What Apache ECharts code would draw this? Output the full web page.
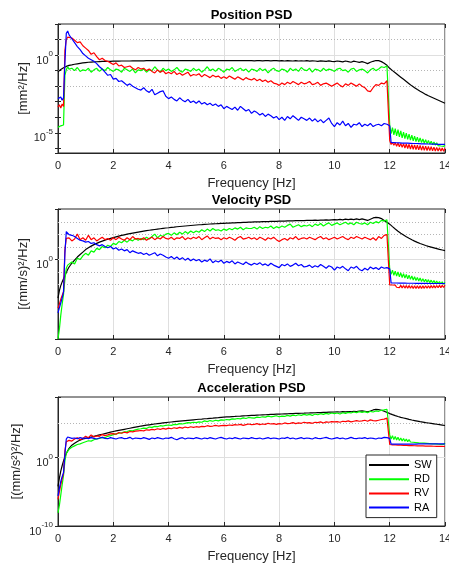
<!DOCTYPE html>
<html><head><meta charset="utf-8">
<script src="https://cdn.jsdelivr.net/npm/echarts@6/dist/echarts.min.js"></script>
<style>html,body{margin:0;padding:0;background:#fff}#c{width:449px;height:567px}</style>
</head><body><div id="c"></div>
<script>
// Frequency grid [Hz]
const freq = [
 0,0.05,0.1,0.15,0.2,0.25,0.3,0.35,0.4,
 0.5,0.6,0.7,0.8,0.9,
 1,1.1,1.2,1.3,1.4,1.5,1.6,1.7,1.8,1.9,
 2,2.1,2.2,2.3,2.4,2.5,2.6,2.7,2.8,2.9,
 3,3.1,3.2,3.3,3.4,3.5,3.6,3.7,3.8,3.9,
 4,4.1,4.2,4.3,4.4,4.5,4.6,4.7,4.8,4.9,
 5,5.1,5.2,5.3,5.4,5.5,5.6,5.7,5.8,5.9,
 6,6.1,6.2,6.3,6.4,6.5,6.6,6.7,6.8,6.9,
 7,7.1,7.2,7.3,7.4,7.5,7.6,7.7,7.8,7.9,
 8,8.1,8.2,8.3,8.4,8.5,8.6,8.7,8.8,8.9,
 9,9.1,9.2,9.3,9.4,9.5,9.6,9.7,9.8,9.9,
 10,10.1,10.2,10.3,10.4,10.5,10.6,10.7,10.8,10.9,
 11,11.1,11.2,11.3,11.4,11.5,11.6,11.7,11.8,11.9,
 11.95,12,12.05,12.1,12.15,12.2,12.25,12.3,12.35,12.4,12.45,12.5,12.55,12.6,12.65,12.7,12.75,12.8,12.85,12.9,12.95,
 13,13.05,13.1,13.15,13.2,13.25,13.3,13.35,13.4,13.45,13.5,13.55,13.6,13.65,13.7,13.75,13.8,13.85,13.9,13.95,14
];
const seriesNames = ['SW','RD','RV','RA'];
const panelTitles = ['Position PSD','Velocity PSD','Acceleration PSD'];
const yAxisNames = ['[mm\u00B2/Hz]','[(mm/s)\u00B2/Hz]','[(mm/s\u00B2)\u00B2/Hz]'];
const xAxisName = 'Frequency [Hz]';
// y-axis limits as log10 exponents
const yLimits = [[-6.3,2],[-6.4,4.07],[-10,8.84]];
const yLabelExp = [[0,-5],[0,-5],[0,-10]];
const yMinorExp = [[1,-1,-2,-3,-4,-6],[3,2,1,-1,-2,-3,-4,-6],[5,-5]];

// PSD values stored as log10 exponents (value = 10^x)
const posSW = [
 -1.07,-1.0,-0.93,-0.87,-0.82,-0.77,-0.73,-0.69,-0.66,
 -0.63,-0.59,-0.56,-0.53,-0.5,
 -0.48,-0.46,-0.45,-0.44,-0.43,-0.42,-0.41,-0.41,-0.4,-0.4,
 -0.39,-0.39,-0.39,-0.38,-0.38,-0.38,-0.38,-0.37,-0.37,-0.37,
 -0.37,-0.37,-0.36,-0.36,-0.36,-0.36,-0.36,-0.36,-0.36,-0.36,
 -0.36,-0.36,-0.36,-0.36,-0.36,-0.36,-0.36,-0.36,-0.36,-0.36,
 -0.36,-0.36,-0.36,-0.36,-0.36,-0.36,-0.36,-0.36,-0.36,-0.36,
 -0.36,-0.36,-0.36,-0.36,-0.36,-0.36,-0.36,-0.36,-0.36,-0.36,
 -0.36,-0.37,-0.36,-0.36,-0.37,-0.36,-0.36,-0.37,-0.36,-0.36,
 -0.37,-0.36,-0.38,-0.36,-0.37,-0.38,-0.36,-0.38,-0.37,-0.38,
 -0.36,-0.39,-0.37,-0.38,-0.4,-0.37,-0.39,-0.41,-0.37,-0.4,
 -0.42,-0.38,-0.41,-0.44,-0.38,-0.42,-0.46,-0.39,-0.43,-0.47,
 -0.42,-0.48,-0.55,-0.46,-0.4,-0.35,-0.36,-0.42,-0.52,-0.66,
 -0.75,-0.85,-0.93,-1.0,-1.07,-1.14,-1.21,-1.28,-1.35,-1.42,-1.49,-1.56,-1.63,-1.7,-1.77,-1.84,-1.91,-1.98,-2.04,-2.1,-2.16,
 -2.22,-2.28,-2.33,-2.38,-2.43,-2.48,-2.53,-2.58,-2.62,-2.66,-2.7,-2.74,-2.78,-2.82,-2.86,-2.9,-2.94,-2.98,-3.02,-3.06,-3.1
];
const posRD = [
 -4.65,-4.6,-4.55,-4.55,-4.5,-1.3,-0.95,-0.75,-0.9,
 -0.85,-1.0,-0.8,-1.05,-0.95,
 -1.0,-0.85,-1.1,-0.95,-0.85,-1.05,-0.9,-1.0,-0.8,-0.95,
 -1.05,-0.9,-0.95,-1.1,-0.85,-0.95,-1.05,-0.9,-1.15,-0.95,
 -1.0,-0.9,-1.1,-0.95,-1.0,-0.75,-0.95,-1.1,-0.85,-1.0,
 -0.9,-1.05,-0.95,-0.8,-1.0,-1.1,-0.9,-0.95,-1.05,-0.85,
 -1.0,-0.9,-1.1,-0.95,-0.75,-1.0,-0.9,-1.05,-0.85,-0.95,
 -1.1,-0.9,-0.95,-0.8,-1.05,-0.95,-0.85,-1.0,-0.9,-1.1,
 -0.9,-0.95,-1.05,-0.85,-1.0,-0.9,-1.15,-0.95,-0.85,-1.0,
 -1.05,-0.9,-0.95,-1.1,-0.85,-1.0,-0.9,-1.05,-0.8,-0.95,
 -1.0,-0.85,-1.1,-0.9,-0.95,-1.05,-0.85,-1.0,-0.9,-0.95,
 -1.05,-0.9,-0.85,-1.0,-0.95,-1.1,-0.9,-0.85,-1.05,-0.95,
 -0.9,-1.0,-1.15,-0.95,-0.85,-1.0,-0.9,-0.75,-0.8,-0.7,
 -0.75,-4.5,-5.05,-4.66,-5.13,-4.73,-5.2,-4.8,-5.26,-4.87,-5.32,-4.95,-5.37,-5.02,-5.42,-5.08,-5.47,-5.15,-5.52,-5.21,-5.56,
 -5.28,-5.6,-5.33,-5.63,-5.39,-5.67,-5.44,-5.7,-5.49,-5.73,-5.55,-5.76,-5.6,-5.79,-5.65,-5.82,-5.7,-5.85,-5.74,-5.87,-5.78
];
const posRV = [
 -3.35,-3.2,-3.4,-3.15,-3.3,0.3,1.0,1.15,1.05,
 1.1,0.95,0.8,0.85,0.6,
 0.45,0.3,0.05,0.15,-0.1,-0.3,-0.2,-0.35,-0.4,-0.5,
 -0.6,-0.5,-0.7,-0.65,-0.8,-0.75,-0.7,-0.85,-0.95,-0.8,
 -0.9,-0.85,-1.0,-0.9,-1.05,-1.15,-0.95,-1.1,-1.0,-1.2,
 -1.1,-1.2,-1.05,-1.25,-1.15,-1.3,-1.2,-1.1,-1.35,-1.25,
 -1.3,-1.2,-1.4,-1.25,-1.35,-1.45,-1.3,-1.4,-1.35,-1.5,
 -1.4,-1.5,-1.35,-1.45,-1.55,-1.4,-1.5,-1.6,-1.45,-1.55,
 -1.6,-1.5,-1.65,-1.55,-1.7,-1.6,-1.75,-1.65,-1.8,-1.85,
 -1.95,-1.8,-1.9,-1.75,-1.85,-1.7,-1.8,-1.9,-1.75,-1.85,
 -1.8,-1.7,-1.9,-1.85,-1.75,-1.95,-1.85,-1.8,-1.9,-2.0,
 -1.9,-1.8,-1.95,-2.05,-1.85,-1.95,-1.8,-1.9,-2.0,-1.85,
 -2.0,-2.1,-2.3,-2.35,-2.1,-1.9,-1.95,-1.8,-1.85,-1.65,
 -1.7,-5.5,-5.75,-5.62,-5.8,-5.64,-5.86,-5.66,-5.9,-5.68,-5.94,-5.7,-5.98,-5.72,-6.01,-5.74,-6.04,-5.76,-6.06,-5.78,-6.08,
 -5.8,-6.1,-5.82,-6.12,-5.84,-6.13,-5.86,-6.14,-5.88,-6.15,-5.9,-6.16,-5.92,-6.17,-5.94,-6.17,-5.96,-6.18,-5.98,-6.18,-6.0
];
const posRA = [
 -2.8,-2.85,-2.7,-2.9,-2.75,-0.5,1.4,1.55,1.3,
 1.05,0.8,0.55,0.35,0.1,
 -0.05,-0.2,-0.3,-0.4,-0.55,-0.75,-0.9,-1.1,-1.3,-1.25,
 -1.55,-1.5,-1.7,-1.65,-1.8,-1.95,-1.85,-2.0,-2.1,-2.2,
 -2.25,-2.1,-2.3,-2.4,-2.2,-2.55,-2.45,-2.35,-2.3,-2.65,
 -2.8,-2.7,-2.85,-2.95,-2.75,-2.9,-3.0,-2.85,-3.05,-2.95,
 -3.1,-2.95,-3.15,-3.05,-3.2,-3.1,-3.25,-3.15,-3.3,-3.2,
 -3.45,-3.3,-3.4,-3.5,-3.35,-3.55,-3.3,-3.45,-3.6,-3.5,
 -3.75,-3.6,-3.7,-3.85,-3.75,-3.95,-3.8,-3.9,-4.05,-3.95,
 -4.15,-4.0,-4.2,-3.95,-4.1,-3.9,-4.05,-4.2,-4.0,-4.1,
 -4.2,-4.05,-4.25,-4.1,-4.3,-4.15,-4.35,-4.2,-4.05,-4.4,
 -4.6,-4.35,-4.5,-4.25,-4.55,-4.4,-4.65,-4.45,-4.5,-4.35,
 -4.6,-4.45,-4.55,-4.4,-4.6,-4.5,-4.45,-4.55,-4.4,-4.45,
 -4.5,-4.55,-5.62,-5.62,-5.63,-5.63,-5.64,-5.64,-5.65,-5.65,-5.66,-5.66,-5.67,-5.67,-5.67,-5.68,-5.68,-5.68,-5.69,-5.69,-5.69,
 -5.7,-5.7,-5.7,-5.71,-5.71,-5.71,-5.72,-5.72,-5.72,-5.72,-5.73,-5.73,-5.73,-5.73,-5.74,-5.74,-5.74,-5.74,-5.75,-5.75,-5.75
];

const velSW = [
 -3.1,-2.5,-2.1,-1.8,-1.55,-1.3,-1.05,-0.8,-0.6,
 -0.3,-0.05,0.2,0.4,0.6,
 0.8,0.95,1.08,1.2,1.3,1.4,1.48,1.56,1.63,1.7,
 1.76,1.82,1.88,1.94,1.99,2.04,2.09,2.13,2.17,2.21,
 2.25,2.29,2.33,2.36,2.39,2.42,2.45,2.48,2.51,2.54,
 2.56,2.59,2.61,2.64,2.66,2.68,2.7,2.72,2.74,2.76,
 2.78,2.8,2.81,2.83,2.84,2.86,2.87,2.88,2.9,2.91,
 2.92,2.93,2.94,2.95,2.96,2.97,2.98,2.99,3.0,3.01,
 3.02,3.03,3.03,3.04,3.05,3.06,3.06,3.07,3.08,3.08,
 3.09,3.1,3.1,3.11,3.11,3.12,3.13,3.13,3.14,3.14,
 3.15,3.16,3.15,3.17,3.16,3.18,3.17,3.19,3.18,3.2,
 3.22,3.19,3.23,3.2,3.25,3.21,3.26,3.22,3.27,3.22,
 3.28,3.22,3.15,3.25,3.35,3.4,3.38,3.3,3.15,3.0,
 2.95,2.85,2.75,2.65,2.55,2.46,2.37,2.28,2.2,2.12,2.05,1.98,1.91,1.84,1.77,1.71,1.65,1.59,1.53,1.48,1.43,
 1.38,1.33,1.29,1.25,1.21,1.17,1.13,1.09,1.06,1.03,1.0,0.97,0.94,0.91,0.88,0.85,0.82,0.8,0.77,0.75,0.72
];
const velRD = [
 -6.4,-5.6,-4.5,-3.6,-2.8,-1.6,-0.7,-0.45,-0.5,
 -0.2,-0.35,0.1,0.0,0.3,
 0.5,0.35,0.7,0.6,0.9,0.8,1.05,0.95,1.15,1.05,
 1.3,1.2,1.45,1.35,1.55,1.4,1.6,1.5,1.7,1.55,
 1.7,1.6,1.8,1.65,1.85,2.05,1.75,1.95,1.85,2.05,
 2.1,1.95,2.15,2.0,2.2,2.05,2.25,2.1,2.3,2.15,
 2.3,2.2,2.4,2.25,2.45,2.3,2.5,2.35,2.4,2.3,
 2.45,2.35,2.5,2.4,2.55,2.45,2.6,2.4,2.55,2.5,
 2.5,2.6,2.45,2.65,2.5,2.6,2.55,2.7,2.5,2.65,
 2.55,2.7,2.6,2.75,2.85,2.6,2.7,2.8,2.65,2.75,
 2.7,2.8,2.65,2.85,2.75,2.9,2.7,2.85,2.95,2.75,
 2.85,2.95,2.8,2.9,3.0,2.85,2.95,2.8,3.0,2.9,
 2.85,2.95,2.8,3.0,2.9,3.05,2.95,3.15,3.1,3.2,
 3.05,-0.8,-1.2,-0.85,-1.27,-0.93,-1.33,-1.0,-1.39,-1.07,-1.45,-1.14,-1.5,-1.2,-1.55,-1.26,-1.6,-1.32,-1.65,-1.38,-1.69,
 -1.44,-1.73,-1.49,-1.77,-1.54,-1.8,-1.58,-1.83,-1.62,-1.86,-1.66,-1.89,-1.7,-1.92,-1.74,-1.95,-1.77,-1.97,-1.8,-1.99,-1.83
];
const velRV = [
 -3.9,-3.6,-3.2,-2.9,-2.6,0.8,1.7,1.55,1.75,
 1.5,1.65,2.05,1.6,1.75,
 1.55,1.95,1.6,1.75,1.5,1.65,1.8,1.6,1.7,1.55,
 1.75,1.6,1.8,1.65,1.55,1.75,1.6,1.85,1.65,1.7,
 1.6,1.75,1.55,1.7,1.8,1.6,1.75,1.65,1.85,1.7,
 1.65,1.8,1.6,1.75,1.7,1.85,1.6,1.75,1.65,1.8,
 1.7,1.85,1.6,1.75,1.9,1.65,1.8,1.7,1.75,1.6,
 1.75,1.65,1.8,1.7,1.55,1.75,1.85,1.65,1.7,1.8,
 1.65,1.75,1.6,1.8,1.7,1.55,1.75,1.65,1.8,1.6,
 1.45,1.6,1.7,1.55,1.75,1.65,1.85,1.6,1.7,1.75,
 1.65,1.8,1.7,1.6,1.75,1.85,1.65,1.75,1.6,1.7,
 1.8,1.65,1.75,1.85,1.7,1.6,1.8,1.7,1.85,1.75,
 1.65,1.8,1.7,1.6,1.75,1.55,1.85,1.7,1.95,2.0,
 1.9,-2.05,-2.15,-2.05,-2.2,-2.06,-2.23,-2.07,-2.26,-2.08,-2.28,-2.09,-2.3,-2.1,-2.31,-2.1,-2.32,-2.11,-2.33,-2.11,-2.33,
 -2.12,-2.33,-2.12,-2.33,-2.12,-2.32,-2.11,-2.31,-2.11,-2.3,-2.1,-2.29,-2.1,-2.28,-2.09,-2.27,-2.08,-2.26,-2.08,-2.25,-2.07
];
const velRA = [
 -4.3,-3.9,-3.5,-3.1,-2.6,0.5,2.25,2.3,2.0,
 1.95,1.85,1.7,1.55,1.5,
 1.4,1.45,1.3,1.35,1.2,1.1,1.2,1.05,0.95,1.05,
 0.85,0.95,0.75,0.85,0.7,0.8,0.55,0.7,0.6,0.5,
 0.55,0.4,0.5,0.35,0.45,0.55,0.3,0.45,0.35,0.2,
 0.1,0.25,0.05,0.2,0.0,0.15,-0.05,0.1,-0.1,0.05,
 -0.1,0.0,-0.2,-0.05,-0.15,0.05,-0.25,-0.1,-0.2,-0.05,
 -0.3,-0.15,-0.25,-0.1,-0.35,-0.2,-0.3,-0.4,-0.2,-0.35,
 -0.45,-0.3,-0.4,-0.25,-0.45,-0.35,-0.5,-0.3,-0.45,-0.55,
 -0.65,-0.4,-0.5,-0.35,-0.55,-0.45,-0.3,-0.5,-0.4,-0.6,
 -0.55,-0.45,-0.65,-0.5,-0.6,-0.4,-0.55,-0.7,-0.5,-0.6,
 -0.85,-0.6,-0.7,-0.55,-0.75,-0.9,-0.6,-0.7,-0.55,-0.8,
 -0.9,-0.7,-0.85,-0.6,-0.75,-0.65,-0.8,-0.6,-0.7,-0.65,
 -0.7,-0.75,-1.88,-1.88,-1.89,-1.89,-1.89,-1.9,-1.9,-1.9,-1.9,-1.9,-1.9,-1.91,-1.91,-1.91,-1.91,-1.91,-1.91,-1.91,-1.92,
 -1.92,-1.92,-1.92,-1.92,-1.92,-1.92,-1.92,-1.92,-1.93,-1.93,-1.93,-1.93,-1.93,-1.93,-1.93,-1.93,-1.93,-1.93,-1.93,-1.93,-1.93
];

const accSW = [
 -4.2,-3.0,-2.0,-1.2,-0.5,0.1,0.6,1.0,1.35,
 1.8,2.1,2.35,2.55,2.7,
 2.8,2.9,3.0,3.1,3.2,3.3,3.4,3.5,3.6,3.7,
 3.8,3.88,3.96,4.04,4.12,4.2,4.28,4.36,4.44,4.52,
 4.6,4.66,4.72,4.78,4.84,4.9,4.95,5.0,5.05,5.1,
 5.15,5.19,5.23,5.27,5.31,5.35,5.39,5.43,5.47,5.51,
 5.55,5.59,5.62,5.66,5.69,5.73,5.76,5.8,5.83,5.87,
 5.9,5.93,5.95,5.98,6.0,6.03,6.05,6.08,6.1,6.13,
 6.15,6.17,6.19,6.21,6.23,6.25,6.27,6.29,6.31,6.33,
 6.35,6.36,6.38,6.39,6.41,6.42,6.44,6.45,6.47,6.48,
 6.5,6.51,6.53,6.54,6.56,6.57,6.59,6.6,6.62,6.63,
 6.65,6.67,6.65,6.69,6.67,6.72,6.69,6.75,6.72,6.78,
 6.8,6.74,6.68,6.8,6.95,7.02,7.0,6.9,6.75,6.6,
 6.52,6.42,6.34,6.26,6.19,6.12,6.05,5.99,5.93,5.87,5.82,5.77,5.72,5.67,5.62,5.57,5.52,5.48,5.44,5.4,5.36,
 5.32,5.28,5.24,5.21,5.17,5.14,5.1,5.07,5.04,5.01,4.98,4.95,4.92,4.89,4.86,4.83,4.8,4.77,4.74,4.71,4.68
];
const accRD = [
 -8.07,-7.0,-5.5,-4.0,-2.6,-0.5,0.6,0.9,1.2,
 1.5,1.7,1.9,2.0,2.15,
 2.3,2.45,2.4,2.6,2.7,2.8,2.95,2.9,3.1,3.2,
 3.35,3.45,3.55,3.6,3.75,3.8,3.95,3.9,4.05,4.15,
 4.2,4.3,4.25,4.45,4.4,4.55,4.5,4.65,4.6,4.7,
 4.75,4.7,4.85,4.8,4.95,4.9,5.0,5.1,5.05,5.15,
 5.1,5.2,5.15,5.35,5.25,5.4,5.3,5.45,5.35,5.5,
 5.45,5.55,5.5,5.65,5.6,5.7,5.65,5.8,5.7,5.85,
 5.8,5.75,5.9,5.85,5.95,5.9,6.05,5.95,6.0,6.1,
 5.95,6.05,6.0,6.15,6.05,6.2,6.1,6.25,6.15,6.3,
 6.2,6.3,6.15,6.35,6.25,6.4,6.3,6.45,6.35,6.5,
 6.4,6.5,6.35,6.55,6.45,6.6,6.5,6.65,6.55,6.7,
 6.6,6.7,6.55,6.75,6.65,6.8,6.75,6.9,6.95,7.05,
 6.8,3.3,2.7,3.2,2.62,3.08,2.55,2.96,2.48,2.86,2.42,2.77,2.37,2.69,2.32,2.62,2.27,2.56,2.23,2.5,2.19,
 2.45,2.15,2.4,2.12,2.36,2.09,2.32,2.06,2.28,2.03,2.25,2.0,2.22,1.98,2.19,1.95,2.16,1.93,2.14,1.91,2.12
];
const accRV = [
 -6.1,-5.0,-4.0,-3.1,-2.3,1.0,2.3,2.1,2.5,
 2.4,2.7,2.9,2.6,2.8,
 3.1,2.9,3.3,3.0,3.15,3.1,3.35,3.2,3.3,3.45,
 3.5,3.4,3.65,3.55,3.7,3.6,3.8,3.75,3.85,3.9,
 3.95,3.9,4.05,4.0,4.1,4.05,4.2,4.1,4.25,4.15,
 4.3,4.2,4.35,4.25,4.4,4.3,4.45,4.35,4.5,4.4,
 4.5,4.45,4.55,4.5,4.65,4.55,4.6,4.7,4.6,4.65,
 4.7,4.65,4.75,4.7,4.8,4.75,4.85,4.7,4.8,4.9,
 4.8,4.85,4.95,4.8,4.9,4.85,5.0,4.9,4.95,4.85,
 4.95,4.9,5.05,4.95,5.0,5.1,4.95,5.05,5.0,5.15,
 5.05,5.1,5.0,5.15,5.1,5.2,5.05,5.2,5.15,5.25,
 5.2,5.25,5.15,5.3,5.25,5.35,5.2,5.3,5.4,5.3,
 5.35,5.45,5.3,5.5,5.4,5.35,5.45,5.55,5.6,5.75,
 5.5,1.9,1.8,1.86,1.78,1.84,1.76,1.82,1.74,1.8,1.73,1.78,1.72,1.77,1.7,1.75,1.69,1.74,1.68,1.72,1.67,
 1.71,1.66,1.7,1.65,1.69,1.64,1.68,1.63,1.67,1.62,1.66,1.62,1.65,1.61,1.64,1.6,1.63,1.6,1.62,1.59,1.61
];
const accRA = [
 -5.6,-4.5,-3.5,-2.8,-2.2,0.5,2.7,3.0,2.9,
 2.8,2.85,2.75,2.9,2.8,
 2.85,2.75,2.9,2.8,2.7,2.85,2.95,2.8,2.75,2.9,
 2.8,2.7,2.85,2.9,2.75,2.8,2.95,2.7,2.85,2.8,
 2.75,2.9,2.8,2.65,2.85,2.75,2.9,2.8,2.7,2.85,
 2.8,2.95,2.75,2.6,2.8,2.9,2.7,2.85,2.8,2.75,
 2.9,2.8,2.7,2.85,2.75,2.9,2.8,2.7,2.85,2.95,
 2.8,2.7,2.85,2.75,2.9,2.8,2.7,2.85,2.8,2.75,
 2.9,2.8,2.75,2.85,2.7,2.8,2.9,2.75,2.85,2.8,
 2.7,2.85,2.8,2.95,2.75,2.85,2.7,2.8,2.9,2.75,
 2.85,2.8,2.7,2.9,2.8,2.75,2.85,2.95,2.8,2.7,
 2.8,2.9,2.75,2.85,2.7,2.8,2.95,2.8,2.75,2.85,
 2.8,2.9,2.75,2.85,2.8,2.7,2.85,2.8,2.95,2.9,
 2.85,2.8,1.95,1.95,1.95,1.95,1.96,1.96,1.96,1.96,1.96,1.96,1.97,1.97,1.97,1.97,1.97,1.97,1.97,1.97,1.97,
 1.97,1.98,1.98,1.98,1.98,1.98,1.98,1.98,1.98,1.98,1.98,1.98,1.98,1.98,1.98,1.98,1.98,1.98,1.98,1.98,1.98
];

const panelData = [
  [posSW, posRD, posRV, posRA],
  [velSW, velRD, velRV, velRA],
  [accSW, accRD, accRV, accRA]
];
const lineColors = ['#000000', '#00ff00', '#ff0000', '#0000ff'];

const FONT = "'Liberation Sans', Arial, Helvetica, sans-serif";
const AX = '#262626';
const gridRects = [
  {top: 24, height: 129},
  {top: 209, height: 130},
  {top: 397, height: 129}
];
const splitNums = [10, 10, 5];
const yNameGaps = [28, 28, 35];

const chart = echarts.init(document.getElementById('c'), null, {renderer: 'canvas'});
const grids = [], xAxes = [], yAxes = [], xTop = [], yRight = [], series = [], titles = [];

gridRects.forEach((g, p) => {
  grids.push({left: 58, right: 4, top: g.top, height: g.height, show: true,
    borderColor: AX, borderWidth: 1, backgroundColor: '#fff', containLabel: false,
    outerBoundsMode: 'none'});
  titles.push({text: panelTitles[p], left: 251.5, top: g.top - 15, textAlign: 'center', padding: 0,
    textStyle: {fontSize: 13, fontWeight: 'bold', color: '#000', fontFamily: FONT}});
  xAxes.push({type: 'value', gridIndex: p, min: 0, max: 14, interval: 2,
    axisLine: {show: true, lineStyle: {color: AX, width: 1}},
    axisTick: {show: true, inside: true, length: 4, lineStyle: {color: AX}},
    axisLabel: {color: AX, fontSize: 11, margin: 7, fontFamily: FONT},
    splitLine: {show: true, lineStyle: {color: '#dfdfdf', width: 1}},
    name: xAxisName, nameLocation: 'middle', nameGap: 24,
    nameTextStyle: {fontSize: 13, color: AX, fontFamily: FONT}});
  xTop.push({type: 'value', gridIndex: p, min: 0, max: 14, interval: 2, position: 'top',
    axisLine: {show: false}, axisLabel: {show: false}, splitLine: {show: false},
    axisTick: {show: true, inside: true, length: 4, lineStyle: {color: AX}}});
  const majors = yLabelExp[p];
  const yBase = {type: 'log', logBase: 10, gridIndex: p,
    min: Math.pow(10, yLimits[p][0]), max: Math.pow(10, yLimits[p][1]),
    splitNumber: splitNums[p], splitLine: {show: false}};
  yAxes.push(Object.assign({}, yBase, {
    axisLine: {show: true, lineStyle: {color: AX, width: 1}},
    axisTick: {show: true, inside: true, length: 3, lineStyle: {color: AX}},
    axisLabel: {
      margin: 5, fontFamily: FONT, color: AX,
      formatter: function (v) {
        const e = Math.log10(v);
        const r = Math.round(e);
        if (Math.abs(e - r) > 1e-6 || majors.indexOf(r) < 0) return '';
        return '{b|10}{s|' + r + '}';
      },
      rich: {
        b: {fontSize: 11, lineHeight: 12, verticalAlign: 'bottom', color: AX, fontFamily: FONT},
        s: {fontSize: 8, lineHeight: 22, verticalAlign: 'top', padding: [6, 0, 0, 0], color: AX, fontFamily: FONT}
      }
    },
    name: yAxisNames[p], nameLocation: 'middle', nameGap: yNameGaps[p], nameRotate: 90,
    nameMoveOverlap: false,
    nameTextStyle: {fontSize: 13, color: AX, fontFamily: FONT}}));
  yRight.push(Object.assign({}, yBase, {position: 'right',
    axisLine: {show: false}, axisLabel: {show: false},
    axisTick: {show: true, inside: true, length: 3, lineStyle: {color: AX}}}));
  // grid lines (major solid, minor dotted)
  const ml = [];
  majors.forEach(e => ml.push({yAxis: Math.pow(10, e), lineStyle: {color: '#dfdfdf', type: 'solid', width: 1}}));
  yMinorExp[p].forEach(e => ml.push({yAxis: Math.pow(10, e), lineStyle: {color: '#b5b5b5', type: [1, 2], width: 1}}));
  series.push({type: 'line', name: 'grid' + p, xAxisIndex: p, yAxisIndex: p, data: [], silent: true, z: 1,
    markLine: {silent: true, symbol: ['none', 'none'], label: {show: false}, animation: false, z: 1, data: ml}});
  panelData[p].forEach((arr, k) => {
    series.push({type: 'line', name: seriesNames[k], xAxisIndex: p, yAxisIndex: p,
      data: freq.map((f, i) => [f, Math.pow(10, arr[i])]),
      symbol: 'none', showSymbol: false, z: 3 + k,
      lineStyle: {color: lineColors[k], width: 1.2},
      itemStyle: {color: lineColors[k]}, animation: false});
  });
});

chart.setOption({
  animation: false,
  backgroundColor: '#fff',
  title: titles,
  grid: grids,
  xAxis: xAxes.concat(xTop),
  yAxis: yAxes.concat(yRight),
  legend: {data: seriesNames.map(n => ({name: n, icon: 'rect'})), orient: 'vertical', left: 366, top: 455,
    itemWidth: 40, itemHeight: 2, itemGap: 2.2, padding: [4, 5, 4, 3],
    backgroundColor: '#fff', borderColor: AX, borderWidth: 1, borderRadius: 0,
    selectedMode: false, z: 20,
    textStyle: {fontSize: 11, lineHeight: 12, color: '#000', fontFamily: FONT}},
  series: series
});
</script></body></html>
